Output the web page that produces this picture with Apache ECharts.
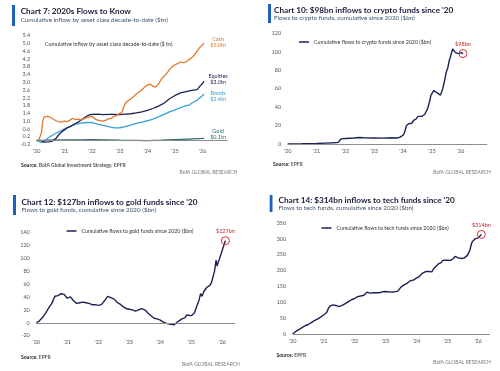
<!DOCTYPE html>
<html><head><meta charset="utf-8">
<script src="https://cdn.jsdelivr.net/npm/echarts@6/dist/echarts.min.js"></script>
<style>html,body{margin:0;padding:0;background:#fff}#c{width:500px;height:371px}</style>
</head><body><div id="c"></div>
<script>
// ---------- tick labels ----------
const xTickLabels = ["'20","'21","'22","'23","'24","'25","'26"];

// ---------- Chart 7: cumulative inflow by asset class ($tn) ----------
const cashT = [2020.00,2020.08,2020.12,2020.17,2020.22,2020.27,2020.33,2020.40,2020.50,2020.60,2020.70,2020.80,2020.90,
  2021.00,2021.10,2021.20,2021.30,2021.40,2021.50,2021.60,2021.70,2021.80,2021.90,
  2022.00,2022.10,2022.20,2022.30,2022.40,2022.50,2022.60,2022.70,2022.80,2022.90,
  2023.00,2023.08,2023.15,2023.22,2023.30,2023.40,2023.50,2023.60,2023.70,2023.80,2023.90,
  2024.00,2024.10,2024.20,2024.30,2024.40,2024.50,2024.60,2024.70,2024.80,2024.90,
  2025.00,2025.10,2025.20,2025.30,2025.40,2025.50,2025.60,2025.70,2025.80,2025.90,
  2026.00,2026.05];
const cashV = [0,0.05,0.1,0.4,1.0,1.22,1.27,1.25,1.2,1.1,1.02,0.97,0.95,
  1.0,0.97,1.05,1.15,1.08,1.1,1.05,1.12,1.18,1.22,
  1.25,1.12,1.05,1.02,1.0,1.05,1.12,1.15,1.25,1.3,
  1.4,1.45,1.75,1.95,2.05,2.15,2.25,2.4,2.5,2.6,2.75,
  2.85,2.9,2.8,2.75,2.9,3.15,3.3,3.45,3.65,3.8,
  3.9,3.95,4.05,4.0,4.05,4.15,4.25,4.4,4.6,4.8,
  4.92,5.0];
const eqT = [2020.0,2020.1,2020.2,2020.3,2020.4,2020.5,2020.6,2020.7,2020.8,2020.9,
  2021.0,2021.1,2021.2,2021.3,2021.4,2021.5,2021.6,2021.7,2021.8,2021.9,
  2022.0,2022.2,2022.4,2022.6,2022.8,
  2023.0,2023.2,2023.4,2023.6,2023.8,
  2024.0,2024.2,2024.4,2024.6,2024.8,
  2025.0,2025.2,2025.4,2025.6,2025.8,2025.9,
  2026.0,2026.05];
const eqV = [0,0.02,-0.03,-0.08,-0.07,-0.05,0.0,0.12,0.3,0.45,
  0.55,0.65,0.72,0.8,0.88,0.95,1.05,1.15,1.25,1.32,
  1.35,1.36,1.34,1.35,1.35,
  1.34,1.36,1.38,1.42,1.48,
  1.55,1.65,1.77,1.92,2.15,
  2.32,2.45,2.52,2.58,2.62,2.8,
  2.95,3.05];
const bondT = [2020.0,2020.1,2020.2,2020.3,2020.4,2020.5,2020.6,2020.7,2020.8,2020.9,
  2021.0,2021.2,2021.4,2021.6,2021.8,
  2022.0,2022.2,2022.4,2022.6,2022.8,
  2023.0,2023.2,2023.4,2023.6,2023.8,
  2024.0,2024.2,2024.4,2024.6,2024.8,
  2025.0,2025.2,2025.4,2025.5,2025.6,2025.8,
  2026.0,2026.05];
const bondV = [0,-0.05,-0.1,0.0,0.12,0.22,0.3,0.38,0.45,0.52,
  0.6,0.72,0.83,0.9,0.93,
  0.93,0.85,0.78,0.72,0.65,
  0.66,0.72,0.8,0.88,0.95,
  1.02,1.1,1.22,1.35,1.48,
  1.58,1.7,1.8,1.82,1.92,2.08,
  2.32,2.4];
const goldT = [2020.0,2020.4,2021.0,2021.5,2022.0,2022.5,2023.0,2023.5,2024.0,2024.5,2025.0,2025.5,2026.0,2026.05];
const goldV = [0,0.02,0.03,0.03,0.05,0.04,0.02,0.01,0.0,0.02,0.05,0.08,0.11,0.12];
const endLabels7 = ['Cash\n$5.0tn','Equities\n$3.0tn','Bonds\n$2.4tn','Gold\n$0.1tn'];

// ---------- Chart 10: crypto funds ($bn) ----------
const cryptoT = [2020.0,2020.5,
  2021.0,2021.3,2021.6,2021.75,2021.85,
  2022.0,2022.3,2022.5,2022.7,
  2023.0,2023.3,2023.6,2023.8,2023.9,
  2024.0,2024.05,2024.12,2024.2,2024.3,2024.38,2024.45,2024.52,2024.65,2024.75,2024.85,2024.92,2024.97,
  2025.02,2025.07,2025.11,2025.16,2025.22,2025.3,2025.38,2025.45,2025.5,2025.55,2025.6,2025.65,2025.72,2025.78,2025.82,2025.87,2025.92,2025.97,
  2026.03,2026.08];
const cryptoV = [0,0.2,
  0.6,1.0,1.3,1.8,5.5,
  6.0,6.5,7.0,6.6,
  6.5,6.4,6.8,6.5,7.5,
  9.5,12,20,22,22.5,26,27,30,30,32,38,46,53,
  52,58,59,56,54,53,60,70,78,82,90,95,103,102,99,100,98,100,
  99,98];

// ---------- Chart 12: gold funds ($bn) ----------
const goldFundT = [2020.0,2020.1,2020.2,2020.3,2020.4,2020.5,2020.6,2020.7,2020.8,2020.9,
  2021.0,2021.1,2021.2,2021.3,2021.4,2021.5,2021.6,2021.7,2021.8,2021.9,
  2022.0,2022.1,2022.2,2022.3,2022.4,2022.5,2022.6,2022.7,2022.8,2022.9,
  2023.0,2023.1,2023.2,2023.3,2023.4,2023.5,2023.6,2023.7,2023.8,2023.9,
  2024.0,2024.1,2024.2,2024.3,2024.35,2024.45,2024.5,2024.6,2024.7,2024.8,2024.85,2024.9,
  2025.0,2025.1,2025.15,2025.25,2025.3,2025.35,2025.4,2025.5,2025.6,2025.65,2025.75,2025.8,2025.83,2025.95,
  2026.05,2026.1];
const goldFundV = [0,3,8,15,23,30,41,42,45,44,
  38,40,34,30,31,32,31,30,28,28,
  27,28,34,41,39,37,32,29,25,22,
  21,20,18,20,22,20,15,11,7,6,
  4,1,-1,-2,-4,-3,0,3,6,8,12,10,
  11,15,22,35,45,41,48,55,58,62,80,97,88,105,
  120,127];

// ---------- Chart 14: tech funds ($bn) ----------
const techT = [2020.0,2020.1,2020.2,2020.3,2020.4,2020.5,2020.6,2020.7,2020.8,2020.9,
  2021.0,2021.1,2021.15,2021.2,2021.3,2021.4,2021.5,2021.6,2021.7,2021.8,2021.9,
  2022.0,2022.1,2022.2,2022.3,2022.4,2022.5,2022.6,2022.8,2022.9,
  2023.0,2023.2,2023.3,2023.4,2023.5,2023.6,2023.7,2023.8,2023.9,
  2024.0,2024.1,2024.2,2024.3,2024.4,2024.5,2024.55,2024.6,2024.7,2024.8,2024.85,2024.9,2024.95,
  2025.0,2025.1,2025.2,2025.25,2025.35,2025.45,2025.55,2025.65,2025.72,2025.8,2025.9,
  2026.0,2026.05,2026.1];
const techV = [0,8,14,20,26,30,36,42,47,53,
  60,68,80,88,92,90,86,90,96,102,108,
  112,118,120,122,132,129,130,130,133,
  134,132,133,135,148,155,160,168,170,
  176,182,192,197,197,196,205,210,220,225,232,228,233,
  228,232,238,245,240,238,240,248,262,290,300,
  303,308,314];

const annot = ['$98bn','$127bn','$314bn'];

// ---------- build ----------
const zip = (t, v) => t.map((x, i) => [x, v[i]]);
const last = (t, v) => [t[t.length - 1], v[v.length - 1]];
const FONT = 'Lato';
const NAVY = '#1c2353';
const RED = '#d2323a';

function xAx(idx, max) {
  return {
    type: 'value', gridIndex: idx, min: 2020, max: max, interval: 1,
    axisLine: {show: false}, axisTick: {show: false}, splitLine: {show: false},
    axisLabel: {fontSize: 5.5, color: '#555', fontFamily: FONT, margin: 4, showMaxLabel: false,
      formatter: v => (Math.abs(v - Math.round(v)) < 1e-6 ? (xTickLabels[Math.round(v) - 2020] || '') : '')}
  };
}
function yAx(idx, min, max, interval, dec) {
  return {
    type: 'value', gridIndex: idx, min: min, max: max, interval: interval,
    axisLine: {show: false}, axisTick: {show: false}, splitLine: {show: false},
    axisLabel: {fontSize: 5.5, color: '#555', fontFamily: FONT, margin: 6.5,
      formatter: v => Number(v).toFixed(dec)}
  };
}
const zeroLine = {
  silent: true, symbol: ['none', 'none'], label: {show: false},
  lineStyle: {color: '#8c8c8c', width: 1, type: 'solid'}, data: [{yAxis: 0}]
};
function circle(pt, txt) {
  return {
    symbol: 'circle', symbolSize: 8, silent: true,
    itemStyle: {color: 'rgba(0,0,0,0)', borderColor: RED, borderWidth: 1},
    label: {show: true, position: 'top', distance: 2, formatter: txt, color: '#b8282e', fontSize: 5.5, fontFamily: FONT},
    data: [{coord: pt}]
  };
}
function endLbl(txt, color, dy) {
  return {show: true, formatter: txt, color: color, fontSize: 5.5, lineHeight: 6, fontFamily: FONT,
    align: 'center', distance: 14, offset: [0, dy]};
}
function tt(text, left, top, size, weight, color) {
  return {text: text, left: left, top: top, padding: 0, itemGap: 0,
    textStyle: {fontSize: size, fontWeight: weight, color: color, fontFamily: FONT}};
}
function src(text, left, top) {
  return {text: '{b|Source:} ' + text, left: left, top: top, padding: 0,
    textStyle: {fontSize: 5, color: '#555', fontFamily: FONT,
      rich: {b: {fontSize: 5, fontWeight: 'bold', color: '#222', fontFamily: FONT}}}};
}
function lg(name, left, top) {
  return {data: [name], left: left, top: top, padding: 0, icon: 'rect', itemWidth: 10, itemHeight: 1.5,
    selectedMode: false, textStyle: {fontSize: 5.3, color: '#333', fontFamily: FONT}};
}

const n2 = 'Cumulative flows to crypto funds since 2020 ($bn)';
const n3 = 'Cumulative flows to gold funds since 2020 ($bn)';
const n4 = 'Cumulative flows to tech funds since 2020 ($bn)';
const TITLE = '#1b1b3a', SUB = '#3e5266', BR = '#7a7a7a';
const TS = 8.2, SS = 6.3;

const option = {
  animation: false,
  textStyle: {fontFamily: FONT},
  title: [
    tt('Chart 7: 2020s Flows to Know', 20.7, 7.5, TS, 'bold', TITLE),
    tt('Cumulative inflow by asset class decade-to-date ($tn)', 20.7, 17.3, SS, 'normal', SUB),
    tt('Cumulative inflow by asset class decade-to-date ($ tn)', 45, 41.3, 5.4, 'normal', '#333'),
    src('BofA Global Investment Strategy, EPFR', 21, 162.5),
    tt('BofA GLOBAL RESEARCH', 179.5, 169.7, 5, 'normal', BR),

    tt("Chart 10: $98bn inflows to crypto funds since '20", 274, 6, TS, 'bold', TITLE),
    tt('Flows to crypto funds, cumulative since 2020 ($bn)', 274, 15.2, SS, 'normal', SUB),
    src('EPFR', 273, 161.5),
    tt('BofA GLOBAL RESEARCH', 433, 169.7, 5, 'normal', BR),

    tt("Chart 12: $127bn inflows to gold funds since '20", 21.5, 198.3, TS, 'bold', TITLE),
    tt('Flows to gold funds, cumulative since 2020 ($bn)', 21.5, 206.8, SS, 'normal', SUB),
    src('EPFR', 21, 354.5),
    tt('BofA GLOBAL RESEARCH', 182, 362.3, 5, 'normal', BR),

    tt("Chart 14: $314bn inflows to tech funds since '20", 278.5, 196, TS, 'bold', TITLE),
    tt('Flows to tech funds, cumulative since 2020 ($bn)', 278.5, 204.8, SS, 'normal', SUB),
    src('EPFR', 276.5, 352.5),
    tt('BofA GLOBAL RESEARCH', 433, 359.8, 5, 'normal', BR)
  ],
  graphic: [
    {type: 'rect', shape: {x: 12, y: 5, width: 3, height: 21}, style: {fill: '#1f5fbf'}},
    {type: 'rect', shape: {x: 268, y: 4, width: 3, height: 19}, style: {fill: '#1f5fbf'}},
    {type: 'rect', shape: {x: 13, y: 195, width: 3, height: 20}, style: {fill: '#1f5fbf'}},
    {type: 'rect', shape: {x: 269.7, y: 195, width: 2.8, height: 17}, style: {fill: '#1f5fbf'}}
  ],
  legend: [lg(n2, 299, 39.5), lg(n3, 66.5, 228.5), lg(n4, 321.5, 225.5)],
  grid: [
    {left: 36.7, top: 35.5, width: 190.9, height: 109},
    {left: 287.7, top: 33.3, width: 199.5, height: 110.7},
    {left: 36.3, top: 232.3, width: 198.7, height: 103.4},
    {left: 292.7, top: 223, width: 197.3, height: 111}
  ],
  xAxis: [xAx(0, 2026.9), xAx(1, 2026.92), xAx(2, 2026.41), xAx(3, 2026.38)],
  yAxis: [yAx(0, -0.2, 5.4, 0.4, 1), yAx(1, 0, 120, 20, 0), yAx(2, -20, 140, 20, 0), yAx(3, 0, 350, 50, 0)],
  series: [
    {name: 'Gold', type: 'line', xAxisIndex: 0, yAxisIndex: 0, showSymbol: false, symbol: 'none',
      data: zip(goldT, goldV), lineStyle: {color: '#2d6b6e', width: 1.3}, itemStyle: {color: '#2d6b6e'},
      endLabel: endLbl(endLabels7[3], '#2d6b6e', -4), markLine: zeroLine},
    {name: 'Bonds', type: 'line', xAxisIndex: 0, yAxisIndex: 0, showSymbol: false, symbol: 'none',
      data: zip(bondT, bondV), lineStyle: {color: '#3ba0d6', width: 1.3}, itemStyle: {color: '#3ba0d6'},
      endLabel: endLbl(endLabels7[2], '#3ba0d6', 2)},
    {name: 'Equities', type: 'line', xAxisIndex: 0, yAxisIndex: 0, showSymbol: false, symbol: 'none',
      data: zip(eqT, eqV), lineStyle: {color: NAVY, width: 1.3}, itemStyle: {color: NAVY},
      endLabel: endLbl(endLabels7[1], NAVY, -2)},
    {name: 'Cash', type: 'line', xAxisIndex: 0, yAxisIndex: 0, showSymbol: false, symbol: 'none',
      data: zip(cashT, cashV), lineStyle: {color: '#e2792d', width: 1.3}, itemStyle: {color: '#e2792d'},
      endLabel: endLbl(endLabels7[0], '#e2792d', -1)},

    {name: n2, type: 'line', xAxisIndex: 1, yAxisIndex: 1, showSymbol: false, symbol: 'none',
      data: zip(cryptoT, cryptoV), lineStyle: {color: NAVY, width: 1.4}, itemStyle: {color: NAVY},
      markLine: zeroLine, markPoint: circle(last(cryptoT, cryptoV), annot[0])},
    {name: n3, type: 'line', xAxisIndex: 2, yAxisIndex: 2, showSymbol: false, symbol: 'none',
      data: zip(goldFundT, goldFundV), lineStyle: {color: NAVY, width: 1.4}, itemStyle: {color: NAVY},
      markLine: zeroLine, markPoint: circle(last(goldFundT, goldFundV), annot[1])},
    {name: n4, type: 'line', xAxisIndex: 3, yAxisIndex: 3, showSymbol: false, symbol: 'none',
      data: zip(techT, techV), lineStyle: {color: NAVY, width: 1.4}, itemStyle: {color: NAVY},
      markLine: zeroLine, markPoint: circle(last(techT, techV), annot[2])}
  ]
};
const chart = echarts.init(document.getElementById('c'), null, {renderer: 'canvas'});
chart.setOption(option);
</script>
</body></html>
